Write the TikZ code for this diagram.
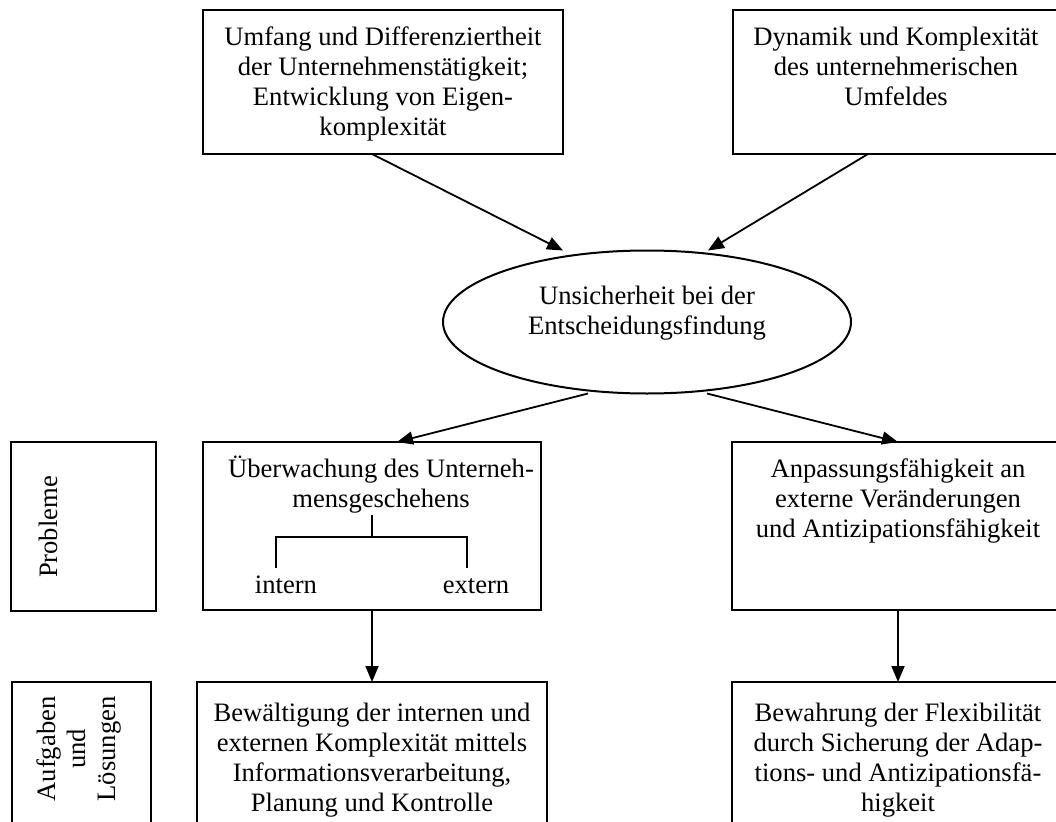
\documentclass[tikz,border=0pt]{standalone}
\usepackage{fontspec}
\setmainfont{Liberation Serif}
\usetikzlibrary{arrows.meta,shapes.geometric}
\begin{document}
\begin{tikzpicture}[x=1pt,y=-1pt,
  box/.style={draw=black, line width=2pt, inner sep=0pt, outer sep=0pt, rectangle},
  oval/.style={draw=black, line width=2pt, inner sep=0pt, outer sep=0pt, ellipse},
  txt/.style={font=\fontsize{26.6}{30}\selectfont, align=center, inner sep=0pt, anchor=north},
  arr/.style={line width=1.8pt, -{Triangle[length=16pt,width=13pt]}},
  brk/.style={line width=1.6pt}]
\path[use as bounding box] (0,0) rectangle (1056,821);
\clip (0,0) rectangle (1056,821);

% boxes
\node[box, minimum width=360pt, minimum height=144pt] (tl) at (383,82) {};
\node[box, minimum width=332pt, minimum height=144pt] (tr) at (899,82) {};
\node[oval, minimum width=408pt, minimum height=143pt] (ell) at (647,322) {};
\node[box, minimum width=145pt, minimum height=169pt] (pr) at (83.5,526.5) {};
\node[box, minimum width=338pt, minimum height=168pt] (ml) at (372,526) {};
\node[box, minimum width=332pt, minimum height=168pt] (mr) at (898,526) {};
\node[box, minimum width=139pt, minimum height=178pt] (bl) at (81.5,771) {};
\node[box, minimum width=350pt, minimum height=178pt] (bm) at (372,771) {};
\node[box, minimum width=332pt, minimum height=178pt] (br) at (898,771) {};

% texts
\node[txt] (tlt) at (383,24) {\strut Umfang und Differenziertheit\\der Unternehmenstätigkeit;\\Entwicklung von Eigen-\\komplexität};
\node[txt] (trt) at (896,24) {\strut Dynamik und Komplexität\\des unternehmerischen\\Umfeldes};
\node[txt] (ellt) at (647,283) {\strut Unsicherheit bei der\\Entscheidungsfindung};
\node[txt, anchor=base, rotate=90] (prt) at (57,527) {Probleme};
\node[txt] (mlt) at (381,456) {\strut Überwachung des Unterneh-\\mensgeschehens};
\node[txt, anchor=base] (int) at (286,593) {intern};
\node[txt, anchor=base] (ext) at (476,593) {extern};
\node[txt] (mrt) at (898,456) {\strut Anpassungsfähigkeit an\\externe Veränderungen\\und Antizipationsfähigkeit};
\node[txt, anchor=center, rotate=90] (blt) at (79,749) {Aufgaben\\und\\Lösungen};
\node[txt] (bmt) at (372,700) {\strut Bewältigung der internen und\\externen Komplexität mittels\\Informationsverarbeitung,\\Planung und Kontrolle};
\node[txt] (brt) at (898,700) {\strut Bewahrung der Flexibilität\\durch Sicherung der Adap-\\tions- und Antizipationsfä-\\higkeit};

% bracket
\draw[brk] (372,515) -- (372,537);
\draw[brk] (276,568) |- (467,537) -- (467,568);

% arrows
\draw[arr] ([xshift=-11pt]tl.south) -- ([xshift=-84pt]ell.north);
\draw[arr] ([xshift=-31pt]tr.south) -- ([xshift=61pt]ell.north);
\draw[arr] ([xshift=-59pt]ell.south) -- ([xshift=25pt]ml.north);
\draw[arr] ([xshift=60pt]ell.south) -- (mr.north);
\draw[arr] (ml.south) -- (bm.north);
\draw[arr] (mr.south) -- (br.north);
\end{tikzpicture}
\end{document}
